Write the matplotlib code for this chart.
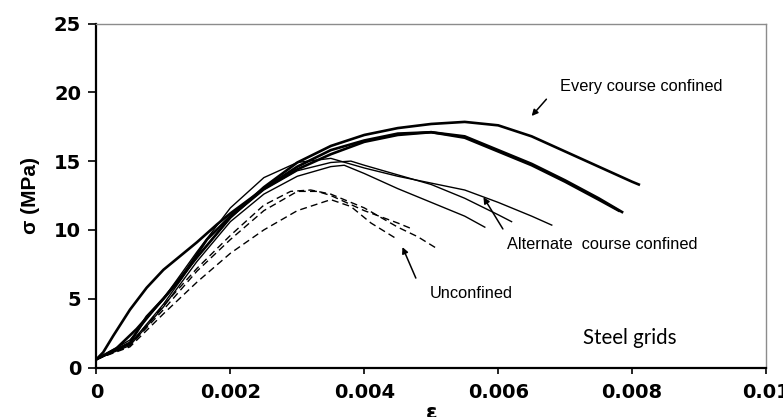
import matplotlib
matplotlib.use("Agg")
import matplotlib.pyplot as plt

# every course confined (thick solid)
ec1_strain = [0, 0.0003, 0.0006, 0.001, 0.0015, 0.002, 0.0025, 0.003, 0.0035, 0.004, 0.0045, 0.005, 0.0055, 0.006, 0.0065, 0.007, 0.0075, 0.008, 0.0081]
ec1_stress = [0.6, 1.4, 2.8, 5.0, 8.0, 10.9, 13.1, 14.9, 16.1, 16.9, 17.4, 17.7, 17.85, 17.6, 16.8, 15.7, 14.6, 13.5, 13.3]
ec2_strain = [0, 0.0005, 0.00075, 0.001, 0.00125, 0.00165, 0.002, 0.0025, 0.003, 0.0035, 0.004, 0.0045, 0.005, 0.0055, 0.006, 0.0065, 0.007, 0.0075, 0.0078]
ec2_stress = [0.6, 1.8, 3.7, 5.0, 6.4, 9.3, 11.0, 13.0, 14.6, 15.8, 16.5, 17.0, 17.1, 16.7, 15.7, 14.7, 13.5, 12.2, 11.4]
ec3_strain = [0, 0.0001, 0.00025, 0.0005, 0.00075, 0.001, 0.0012, 0.0015, 0.0018, 0.002, 0.0025, 0.003, 0.0035, 0.004, 0.0045, 0.005, 0.0055, 0.006, 0.0065, 0.007, 0.0075, 0.00785]
ec3_stress = [0.6, 1.1, 2.3, 4.2, 5.8, 7.1, 7.9, 9.1, 10.4, 11.2, 13.0, 14.4, 15.5, 16.4, 16.9, 17.1, 16.8, 15.8, 14.8, 13.6, 12.3, 11.3]

# alternate course confined (thin solid)
ac1_strain = [0, 0.0005, 0.001, 0.0015, 0.002, 0.0025, 0.003, 0.0035, 0.004, 0.0045, 0.005, 0.0055, 0.006, 0.0065, 0.0068]
ac1_stress = [0.6, 2.0, 5.0, 8.4, 11.6, 13.8, 14.9, 15.2, 14.5, 13.9, 13.4, 12.9, 12.0, 11.0, 10.35]
ac2_strain = [0, 0.0005, 0.001, 0.0015, 0.002, 0.0025, 0.003, 0.0035, 0.0038, 0.004, 0.0045, 0.005, 0.0055, 0.006, 0.0062]
ac2_stress = [0.6, 1.7, 4.6, 8.0, 10.9, 12.9, 14.3, 14.9, 15.0, 14.7, 14.0, 13.3, 12.3, 11.1, 10.6]
ac3_strain = [0, 0.0005, 0.001, 0.0015, 0.002, 0.0025, 0.003, 0.0035, 0.0037, 0.004, 0.0045, 0.005, 0.0055, 0.0058]
ac3_stress = [0.6, 1.6, 4.4, 7.7, 10.6, 12.6, 13.9, 14.6, 14.7, 14.1, 13.0, 12.0, 11.0, 10.2]

# unconfined (dashed)
uc1_strain = [0, 0.0005, 0.001, 0.0015, 0.002, 0.0025, 0.0029, 0.0032, 0.0035, 0.004, 0.0045, 0.0048, 0.0051]
uc1_stress = [0.6, 1.7, 4.5, 7.2, 9.6, 11.8, 12.8, 12.9, 12.6, 11.6, 10.2, 9.5, 8.6]
uc2_strain = [0, 0.0005, 0.001, 0.0015, 0.002, 0.0025, 0.003, 0.0033, 0.0035, 0.004, 0.0045, 0.0047]
uc2_stress = [0.6, 1.6, 4.2, 7.0, 9.3, 11.4, 12.8, 12.8, 12.5, 11.4, 10.5, 10.1]
uc3_strain = [0, 0.0005, 0.001, 0.0015, 0.002, 0.0025, 0.003, 0.0035, 0.0038, 0.0041, 0.0045]
uc3_stress = [0.6, 1.5, 3.9, 6.2, 8.3, 10.0, 11.4, 12.2, 11.7, 10.5, 9.3]

x_ticks = [0, 0.002, 0.004, 0.006, 0.008, 0.01]
x_labels = ["0", "0.002", "0.004", "0.006", "0.008", "0.01"]
y_ticks = [0, 5, 10, 15, 20, 25]

plt.rcParams['font.family'] = ['Liberation Sans', 'DejaVu Sans']

fig = plt.figure(figsize=(7.83, 4.17), dpi=100)
ax = fig.add_axes([0.1232, 0.1187, 0.8551, 0.8249])

for xs, ys in [(ec1_strain, ec1_stress), (ec2_strain, ec2_stress), (ec3_strain, ec3_stress)]:
    ax.plot(xs, ys, color='black', lw=1.9)
for xs, ys in [(ac1_strain, ac1_stress), (ac2_strain, ac2_stress), (ac3_strain, ac3_stress)]:
    ax.plot(xs, ys, color='black', lw=1.0)
for xs, ys in [(uc1_strain, uc1_stress), (uc2_strain, uc2_stress), (uc3_strain, uc3_stress)]:
    ax.plot(xs, ys, color='black', lw=1.0, dashes=(5, 3))

ax.set_xlim(0, 0.01)
ax.set_ylim(0, 25)
ax.set_xticks(x_ticks)
ax.set_xticklabels(x_labels)
ax.set_yticks(y_ticks)
for lab in ax.get_xticklabels() + ax.get_yticklabels():
    lab.set_fontweight('bold')
    lab.set_fontsize(14)
    lab.set_family(['DejaVu Sans'])
ax.tick_params(axis='x', direction='out', length=4, width=1.2, pad=7)
ax.tick_params(axis='y', direction='out', length=6, width=1.2, pad=5)

ax.spines['left'].set_linewidth(1.6)
ax.spines['bottom'].set_linewidth(1.6)
ax.spines['top'].set_color('#8c8c8c')
ax.spines['right'].set_color('#8c8c8c')
ax.spines['top'].set_linewidth(1.0)
ax.spines['right'].set_linewidth(1.0)

ax.set_ylabel("σ (MPa)", fontsize=15, fontweight='bold', labelpad=10)
ax.set_xlabel("ε", fontsize=15, fontweight='bold', labelpad=1, family=['DejaVu Sans'])

arrow = dict(arrowstyle='-|>', color='black', lw=1.1, mutation_scale=9, shrinkA=0, shrinkB=0)
ax.annotate("", xy=(0.0065, 18.28), xytext=(0.00672, 19.5), arrowprops=arrow)
ax.annotate("", xy=(0.00578, 12.38), xytext=(0.00607, 10.07), arrowprops=arrow)
ax.annotate("", xy=(0.00457, 8.75), xytext=(0.00477, 6.5), arrowprops=arrow)

ax.text(0.00693, 20.4, "Every course confined", fontsize=11.8, va='center', ha='left')
ax.text(0.00613, 8.97, "Alternate  course confined", fontsize=11.8, va='center', ha='left')
ax.text(0.00498, 5.41, "Unconfined", fontsize=11.8, va='center', ha='left')
ax.text(0.00726, 2.14, "Steel grids", fontsize=14.8, va='center', ha='left', family=['Lato', 'DejaVu Sans'])

fig.savefig("out.png", dpi=100)
